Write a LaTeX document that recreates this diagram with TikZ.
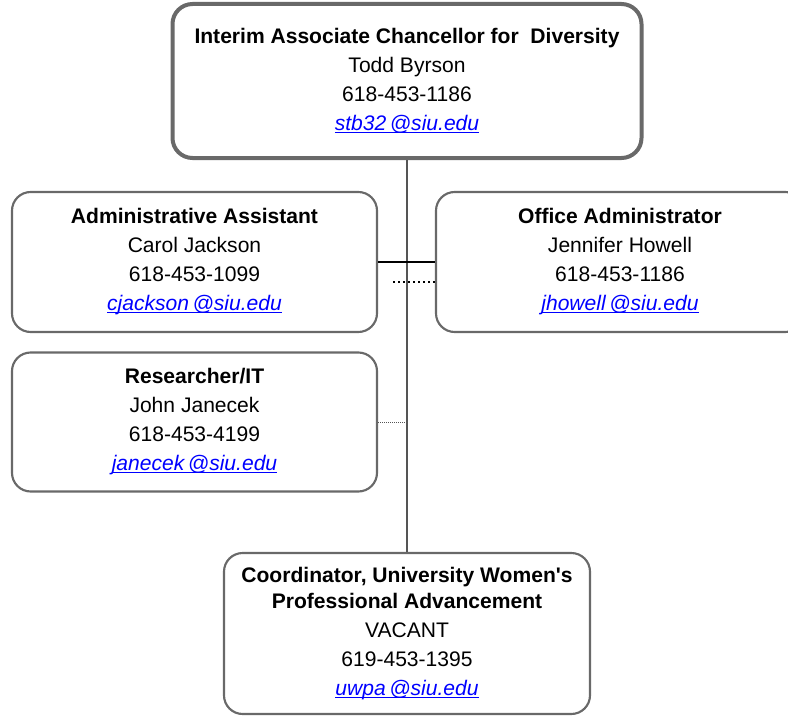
\documentclass[tikz,border=0pt]{standalone}
\usepackage{fontspec}
\setmainfont{Liberation Sans}
\usetikzlibrary{positioning}

\definecolor{boxgray}{HTML}{696969}
\definecolor{linegray}{HTML}{555555}
\definecolor{mailblue}{HTML}{0000FF}
\newcommand{\orgfont}{\fontsize{15.8}{21.75}\selectfont}
\newcommand{\mail}[1]{\textcolor{mailblue}{\itshape\setbox0\hbox{#1}\rlap{\rule[-1.8pt]{\wd0}{0.65pt}}\box0}}

\tikzset{
  unitbox/.style={draw=boxgray, line width=1.6pt, rounded corners=14pt,
    fill=white, align=center, inner sep=0pt, font=\orgfont,
    minimum width=273.75pt, minimum height=105pt},
  headbox/.style={unitbox, line width=3pt, rounded corners=15pt},
  trunk/.style={draw=linegray, line width=1.5pt},
  solidlink/.style={draw=black, line width=1.1pt},
  dotlink/.style={draw=black, line width=1.5pt, dash pattern=on 1.5pt off 2.25pt},
  thindot/.style={draw=linegray, line width=0.75pt, dash pattern=on 0.75pt off 0.75pt}
}

\begin{document}
\begin{tikzpicture}[x=0.75pt,y=-0.75pt]
   \useasboundingbox (0,0) rectangle (788,717);
   \clip (0,0) rectangle (788,717);
   % boxes
   \node[headbox, minimum width=351.75pt, minimum height=115.5pt] (chief) at (407,81)
     {\textbf{Interim Associate Chancellor for~ Diversity}\\Todd Byrson\\618-453-1186\\\mail{stb32\,@siu.edu}};
   \node[unitbox] (assist) at (194.5,262)
     {\textbf{Administrative Assistant}\\Carol Jackson\\618-453-1099\\\mail{cjackson\,@siu.edu}};
   \node[unitbox, minimum width=276pt] (office) at (620,262)
     {\textbf{Office Administrator}\\Jennifer Howell\\618-453-1186\\\mail{jhowell\,@siu.edu}};
   \node[unitbox, minimum height=104.25pt] (research) at (194.5,422)
     {\textbf{Researcher/IT}\\John Janecek\\618-453-4199\\\mail{janecek\,@siu.edu}};
   \node[unitbox, minimum width=274.5pt, minimum height=120.75pt] (vacant) at (407,633.5)
     {\textbf{Coordinator, University Women\textquotesingle s}\\[-2.25pt]\textbf{Professional Advancement}\\VACANT\\619-453-1395\\\mail{uwpa\,@siu.edu}};
   % links
   \coordinate (dotL) at (393,282);
   \draw[trunk] (chief.south) -- (vacant.north);
   \draw[solidlink] (assist.east) -- (office.west);
   \draw[dotlink] (dotL) -- (dotL -| office.west);
   \draw[thindot] (research.east) -- (research.east -| chief.south);
\end{tikzpicture}
\end{document}
